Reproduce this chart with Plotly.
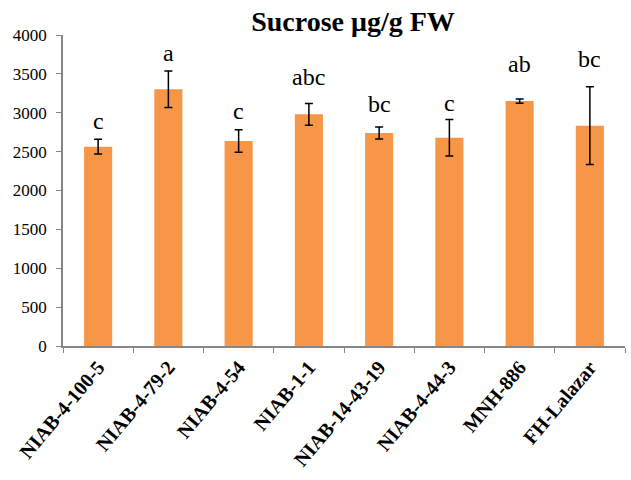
import plotly.graph_objects as go

categories = ["NIAB-4-100-5", "NIAB-4-79-2", "NIAB-4-54", "NIAB-1-1",
              "NIAB-14-43-19", "NIAB-4-44-3", "MNH-886", "FH-Lalazar"]
means = [2564, 3302, 2637, 2980, 2739, 2679, 3150, 2833]
errors = [96, 235, 145, 140, 77, 235, 28, 500]
letters = ["c", "a", "c", "abc", "bc", "c", "ab", "bc"]
y_ticks = [0, 500, 1000, 1500, 2000, 2500, 3000, 3500, 4000]

# pixel gap between error-bar top and letter baseline (layout only)
label_gap_px = [9, 9, 10, 17, 14, 7, 26, 19]

SERIF = "Liberation Serif"

fig = go.Figure()
fig.add_trace(go.Bar(
    x=categories, y=means,
    marker=dict(color="#F79646", line=dict(width=0)),
    width=0.4,
    error_y=dict(type="data", array=errors, visible=True,
                 color="black", thickness=1.5, width=4),
))

for cat, m, e, lab, gap in zip(categories, means, errors, letters, label_gap_px):
    fig.add_annotation(x=cat, y=m + e, text=lab, showarrow=False,
                       xref="x", yref="y", yanchor="bottom",
                       yshift=gap - 6,
                       font=dict(family=SERIF, size=24, color="black"))

fig.update_layout(
    width=631, height=480,
    margin=dict(l=63, r=6, t=35, b=134),
    paper_bgcolor="white", plot_bgcolor="white",
    showlegend=False,
    font=dict(family=SERIF, color="black"),
    title=dict(text="<b>Sucrose μg/g FW</b>", x=0.516, xref="paper",
               xanchor="center", y=1 - 21 / 480, yref="container",
               yanchor="middle",
               font=dict(family=SERIF, size=28, color="black")),
    bargap=0.6,
)
fig.update_yaxes(range=[0, 4000], tickvals=y_ticks,
                 showgrid=False, zeroline=False,
                 showline=True, linecolor="#868686", linewidth=1.5,
                 ticks="outside", ticklen=5, tickcolor="#868686",
                 tickfont=dict(family=SERIF, size=17, color="black"),
                 ticklabelstandoff=6)
fig.update_xaxes(showgrid=False, showline=True, linecolor="#868686",
                 linewidth=1.5, ticks="outside", ticklen=5,
                 tickcolor="#868686", tickson="boundaries",
                 tickangle=-50,
                 tickfont=dict(family=SERIF, size=20, color="black"),
                 tickprefix="<b>", ticksuffix="</b>")

fig.write_html("out.html", config={"displayModeBar": False},
               post_script="document.body.style.margin='0';document.body.style.padding='0';")
